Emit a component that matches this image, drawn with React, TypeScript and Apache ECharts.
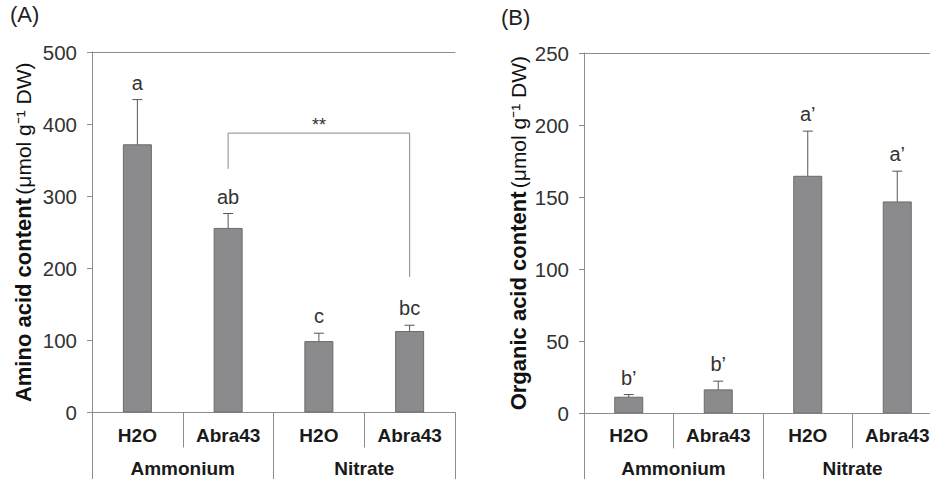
import React, { useEffect, useRef } from "react";
import * as echarts from "echarts";

const groups = ["Ammonium", "Nitrate"];
const treatments = ["H2O", "Abra43", "H2O", "Abra43"];

const aminoMeans = [372, 256, 99, 113];
const aminoErr = [62, 20, 11, 8];
const aminoLetters = ["a", "ab", "c", "bc"];
const aminoMax = 500;
const aminoStep = 100;

const organicMeans = [11.5, 16.6, 164.8, 147];
const organicErr = [1.5, 5.7, 31, 21];
const organicLetters = ["b\u2019", "b\u2019", "a\u2019", "a\u2019"];
const organicMax = 250;
const organicStep = 50;

// significance bracket in panel A: [fromCat, toCat, top, leftEnd, rightEnd]
const bracket = [1, 3, 387.5, 338, 188];
const bracketText = "**";

const FONT = "Liberation Sans, Arial, sans-serif";
const AXIS = "#8c8c8c";

const catKeys = treatments.map((t, i) => `${groups[i >> 1]}|${t}`);

function panelAxes(g: number, name: string, max: number, step: number, nameGap: number) {
  const xs = [
    {
      type: "category",
      gridIndex: g,
      position: "bottom",
      data: catKeys,
      axisLine: { show: true, lineStyle: { color: AXIS, width: 1 } },
      axisTick: { show: true, interval: 0, length: 35, lineStyle: { color: AXIS } },
      axisLabel: {
        interval: 0,
        margin: 13,
        fontFamily: FONT,
        fontWeight: "bold",
        fontSize: 19,
        color: "#1a1a1a",
        formatter: (v: string) => v.split("|")[1],
      },
    },
    {
      type: "category",
      gridIndex: g,
      position: "bottom",
      data: groups,
      axisLine: { show: false },
      axisTick: { show: true, interval: 0, length: 70, lineStyle: { color: AXIS } },
      axisLabel: {
        interval: 0,
        margin: 46,
        fontFamily: FONT,
        fontWeight: "bold",
        fontSize: 19,
        color: "#1a1a1a",
      },
    },
    {
      type: "category",
      gridIndex: g,
      position: "top",
      data: catKeys,
      axisLine: { show: true, lineStyle: { color: AXIS, width: 1 } },
      axisTick: { show: false },
      axisLabel: { show: false },
    },
  ];
  const y = {
    type: "value",
    gridIndex: g,
    min: 0,
    max,
    interval: step,
    axisLine: { show: true, lineStyle: { color: AXIS } },
    axisTick: { show: true, length: 5, lineStyle: { color: AXIS } },
    splitLine: { show: false },
    axisLabel: { margin: 15, fontFamily: FONT, fontSize: 20.5, color: "#333" },
    name: `{b|${name}} {n|(\u03bcmol g\u207b\u00b9 DW)}`,
    nameLocation: "middle",
    nameRotate: 90,
    nameGap,
    nameTextStyle: {
      rich: {
        b: { fontFamily: FONT, fontWeight: "bold", fontSize: 22, color: "#111" },
        n: { fontFamily: FONT, fontSize: 21, color: "#111" },
      },
    },
  };
  return { xs, y };
}

function errorSeries(g: number, means: number[], errs: number[], letters: string[]) {
  return {
    type: "custom",
    xAxisIndex: g * 3,
    yAxisIndex: g,
    data: means.map((m, i) => [i, m, errs[i]]),
    renderItem: (params: any, api: any) => {
      const x = api.value(0);
      const m = api.value(1);
      const e = api.value(2);
      const top = api.coord([x, m + e]);
      const bot = api.coord([x, m - e]);
      const cap = 5;
      const ls = { stroke: "#555", lineWidth: 1 };
      return {
        type: "group",
        children: [
          { type: "line", shape: { x1: top[0], y1: top[1], x2: bot[0], y2: bot[1] }, style: ls },
          { type: "line", shape: { x1: top[0] - cap, y1: top[1], x2: top[0] + cap, y2: top[1] }, style: ls },
          { type: "line", shape: { x1: bot[0] - cap, y1: bot[1], x2: bot[0] + cap, y2: bot[1] }, style: ls },
          {
            type: "text",
            x: top[0],
            y: top[1] - 7,
            style: {
              text: letters[params.dataIndex],
              fontFamily: FONT,
              fontSize: 20,
              fill: "#333",
              align: "center",
              verticalAlign: "bottom",
            },
          },
        ],
      };
    },
  };
}

export default function App() {
  const ref = useRef<HTMLDivElement>(null);
  useEffect(() => {
    if (!ref.current) return;
    const chart = echarts.init(ref.current, undefined, { renderer: "svg" });
    const A = panelAxes(0, "Amino acid content", aminoMax, aminoStep, 58);
    const B = panelAxes(1, "Organic acid content", organicMax, organicStep, 55);
    chart.setOption({
      animation: false,
      backgroundColor: "#fff",
      grid: [
        { left: 92, top: 52, width: 363, height: 360.5 },
        { left: 584, top: 53, width: 358, height: 360.3 },
      ],
      xAxis: [...A.xs, ...B.xs],
      yAxis: [A.y, B.y],
      graphic: [
        { type: "text", left: 10, top: 3, style: { text: "(A)", fontFamily: FONT, fontSize: 22, fill: "#222" } },
        { type: "text", left: 501, top: 6, style: { text: "(B)", fontFamily: FONT, fontSize: 22, fill: "#222" } },
      ],
      series: [
        {
          type: "bar",
          xAxisIndex: 0,
          yAxisIndex: 0,
          data: aminoMeans,
          barWidth: 29,
          itemStyle: { color: "#8b8b8d", borderColor: "#6b6b6b", borderWidth: 1 },
        },
        {
          type: "bar",
          xAxisIndex: 3,
          yAxisIndex: 1,
          data: organicMeans,
          barWidth: 29,
          itemStyle: { color: "#8b8b8d", borderColor: "#6b6b6b", borderWidth: 1 },
        },
        errorSeries(0, aminoMeans, aminoErr, aminoLetters),
        errorSeries(1, organicMeans, organicErr, organicLetters),
        {
          type: "custom",
          xAxisIndex: 0,
          yAxisIndex: 0,
          data: [bracket],
          renderItem: (params: any, api: any) => {
            const from = api.value(0);
            const to = api.value(1);
            const top = api.value(2);
            const l = api.coord([from, api.value(3)]);
            const lt = api.coord([from, top]);
            const rt = api.coord([to, top]);
            const r = api.coord([to, api.value(4)]);
            return {
              type: "group",
              children: [
                {
                  type: "polyline",
                  shape: { points: [l, lt, rt, r] },
                  style: { stroke: "#888", lineWidth: 1, fill: "none" },
                },
                {
                  type: "text",
                  x: (lt[0] + rt[0]) / 2,
                  y: lt[1] + 1,
                  style: {
                    text: bracketText,
                    fontFamily: FONT,
                    fontSize: 18,
                    fill: "#333",
                    align: "center",
                    verticalAlign: "bottom",
                  },
                },
              ],
            };
          },
        },
      ],
    });
    return () => chart.dispose();
  }, []);
  return (
    <div
      ref={ref}
      style={{ position: "fixed", left: 0, top: 0, width: 950, height: 479, background: "#fff" }}
    />
  );
}
